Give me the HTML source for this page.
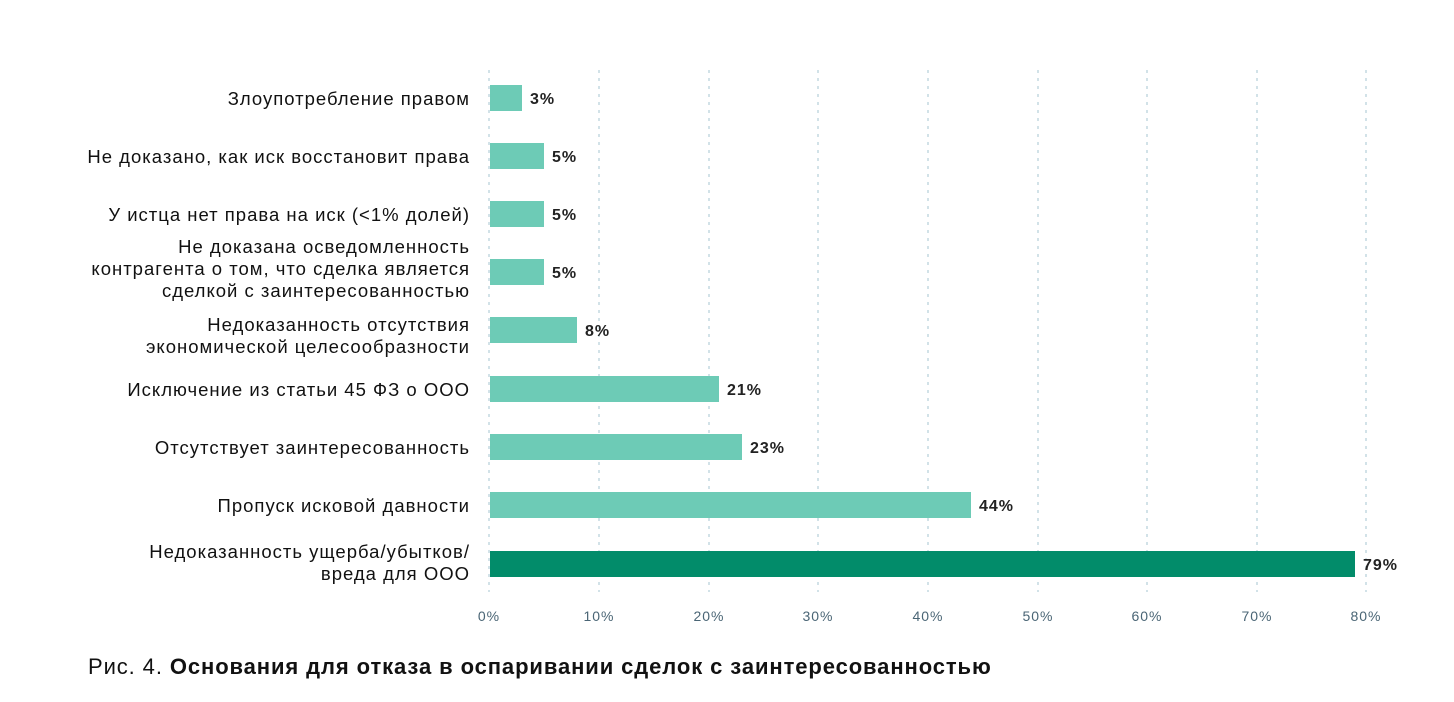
<!DOCTYPE html><html><head><meta charset="utf-8"><style>body{margin:0;background:#fff}svg{display:block}</style></head><body>
<svg width="1454" height="702" xmlns="http://www.w3.org/2000/svg" font-family="Liberation Sans, sans-serif">
<g stroke="#b9d3dc" stroke-width="1.3" stroke-dasharray="3,5">
<line x1="489" y1="70" x2="489" y2="592"/><line x1="599" y1="70" x2="599" y2="592"/><line x1="709" y1="70" x2="709" y2="592"/><line x1="818" y1="70" x2="818" y2="592"/><line x1="928" y1="70" x2="928" y2="592"/><line x1="1038" y1="70" x2="1038" y2="592"/><line x1="1147" y1="70" x2="1147" y2="592"/><line x1="1257" y1="70" x2="1257" y2="592"/><line x1="1366" y1="70" x2="1366" y2="592"/>
</g>
<g fill="#6dcbb6">
<rect x="490" y="85" width="32" height="26"/><rect x="490" y="143" width="54" height="26"/><rect x="490" y="201" width="54" height="26"/><rect x="490" y="259" width="54" height="26"/><rect x="490" y="317" width="87" height="26"/><rect x="490" y="376" width="229" height="26"/><rect x="490" y="434" width="252" height="26"/><rect x="490" y="492" width="481" height="26"/>
</g>
<rect x="490" y="551" width="865" height="26" fill="#028c6a"/>
<g font-size="16" font-weight="bold" fill="#222" letter-spacing="1">
<text x="530" y="104">3%</text><text x="552" y="162">5%</text><text x="552" y="220">5%</text><text x="552" y="278">5%</text><text x="585" y="336">8%</text><text x="727" y="395">21%</text><text x="750" y="453">23%</text><text x="979" y="511">44%</text><text x="1363" y="570">79%</text>
</g>
<g font-size="18.5" fill="#111" text-anchor="end" letter-spacing="1">
<text x="470" y="105">Злоупотребление правом</text>
<text x="470" y="163">Не доказано, как иск восстановит права</text>
<text x="470" y="221">У истца нет права на иск (&lt;1% долей)</text>
<text x="470" y="253">Не доказана осведомленность</text>
<text x="470" y="275">контрагента о том, что сделка является</text>
<text x="470" y="297">сделкой с заинтересованностью</text>
<text x="470" y="331">Недоказанность отсутствия</text>
<text x="470" y="353">экономической целесообразности</text>
<text x="470" y="396">Исключение из статьи 45 ФЗ о ООО</text>
<text x="470" y="454">Отсутствует заинтересованность</text>
<text x="470" y="512">Пропуск исковой давности</text>
<text x="470" y="558">Недоказанность ущерба/убытков/</text>
<text x="470" y="580">вреда для ООО</text>
</g>
<g font-size="14" fill="#4a6575" text-anchor="middle" letter-spacing="1">
<text x="489" y="621">0%</text><text x="599" y="621">10%</text><text x="709" y="621">20%</text><text x="818" y="621">30%</text><text x="928" y="621">40%</text><text x="1038" y="621">50%</text><text x="1147" y="621">60%</text><text x="1257" y="621">70%</text><text x="1366" y="621">80%</text>
</g>
<text x="88" y="674" font-size="22" fill="#111" letter-spacing="0.9">Рис. 4. <tspan font-weight="bold">Основания для отказа в оспаривании сделок с заинтересованностью</tspan></text>
</svg>
</body></html>
